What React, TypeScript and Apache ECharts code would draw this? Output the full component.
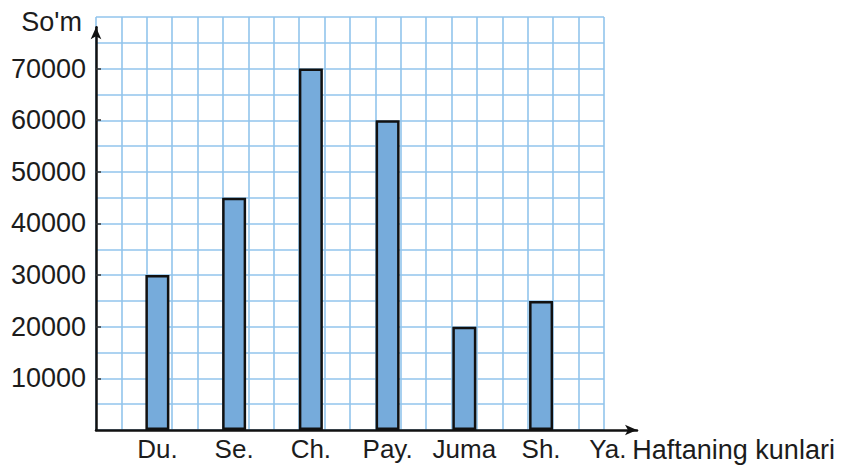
import React, { useEffect, useRef } from "react";
import * as echarts from "echarts";

const days = ["Du.", "Se.", "Ch.", "Pay.", "Juma", "Sh.", "Ya."];
const amounts: (number | null)[] = [30000, 45000, 70000, 60000, 20000, 25000, null];
const yTickValues = [10000, 20000, 30000, 40000, 50000, 60000, 70000];
const yAxisName = "So'm";
const xAxisName = "Haftaning kunlari";

const FONT = "'Liberation Sans', Arial, Helvetica, sans-serif";
const GRID_BLUE = "#92c5ec";
const TEXT = "#1c1c1c";

export default function App() {
  const ref = useRef<HTMLDivElement>(null);
  useEffect(() => {
    if (!ref.current) return;
    const chart = echarts.init(ref.current, null, { renderer: "svg" });
    const barData = days
      .map((_, i) => [i, amounts[i]])
      .filter((d) => d[1] !== null);
    const lastIdx = days.length - 1;
    chart.setOption({
      animation: false,
      backgroundColor: "#ffffff",
      textStyle: { fontFamily: FONT },
      grid: [
        { left: 96, right: 248, top: 17, bottom: 36 },
        { left: 96, right: 215, top: 27.3, bottom: 36 },
      ],
      xAxis: [
        {
          gridIndex: 0,
          type: "value",
          min: 0,
          max: 20,
          interval: 1,
          axisLine: { show: false },
          axisTick: { show: false },
          axisLabel: { show: false },
          splitLine: { show: true, lineStyle: { color: GRID_BLUE, width: 1.6 } },
        },
        {
          gridIndex: 1,
          type: "value",
          min: -0.8,
          max: 6.25,
          axisLine: {
            show: true,
            onZero: false,
            lineStyle: { color: "#111", width: 2.5 },
            symbol: ["none", "arrow"],
            symbolSize: [8, 12],
          },
          axisTick: { show: false },
          splitLine: { show: false },
          axisLabel: {
            show: true,
            customValues: days.map((_, i) => i),
            formatter: (v: number) => {
              const i = Math.round(v);
              const s = days[i] ?? "";
              return i === lastIdx ? `{last|${s}}` : s;
            },
            rich: {
              last: {
                fontSize: 26,
                fontFamily: FONT,
                color: TEXT,
                padding: [0, 20, 0, 0],
              },
            },
            color: TEXT,
            fontSize: 26,
            fontFamily: FONT,
            margin: 6,
          },
          name: xAxisName,
          nameLocation: "end",
          nameGap: -17,
          nameTextStyle: {
            color: TEXT,
            fontSize: 27,
            fontFamily: FONT,
            align: "left",
            verticalAlign: "top",
            padding: [6, 0, 0, 0],
          },
        },
      ],
      yAxis: [
        {
          gridIndex: 0,
          type: "value",
          min: 0,
          max: 80000,
          interval: 5000,
          axisLine: { show: false },
          axisTick: { show: false },
          axisLabel: { show: false },
          splitLine: { show: true, lineStyle: { color: GRID_BLUE, width: 1.6 } },
        },
        {
          gridIndex: 1,
          type: "value",
          min: 0,
          max: 78000,
          axisLine: {
            show: true,
            onZero: false,
            lineStyle: { color: "#111", width: 2.5 },
            symbol: ["none", "arrow"],
            symbolSize: [8, 12],
          },
          axisTick: {
            show: true,
            inside: true,
            length: 5,
            customValues: yTickValues,
            lineStyle: { color: "#333", width: 1.5 },
          },
          axisLabel: {
            show: true,
            customValues: yTickValues,
            formatter: (v: number) => String(v),
            color: TEXT,
            fontSize: 27,
            fontFamily: FONT,
            margin: 10,
          },
          splitLine: { show: false },
          name: yAxisName,
          nameLocation: "end",
          nameGap: 5,
          nameTextStyle: {
            color: TEXT,
            fontSize: 27,
            fontFamily: FONT,
            align: "right",
            verticalAlign: "middle",
            padding: [0, 14, 0, 0],
          },
        },
      ],
      series: [
        {
          type: "bar",
          xAxisIndex: 1,
          yAxisIndex: 1,
          data: barData,
          barWidth: 24,
          itemStyle: {
            color: "#76abdb",
            borderColor: "#111",
            borderWidth: 2.5,
          },
        },
      ],
    });
    return () => chart.dispose();
  }, []);
  return (
    <div
      ref={ref}
      style={{ position: "fixed", left: 0, top: 0, width: 852, height: 466 }}
    />
  );
}
